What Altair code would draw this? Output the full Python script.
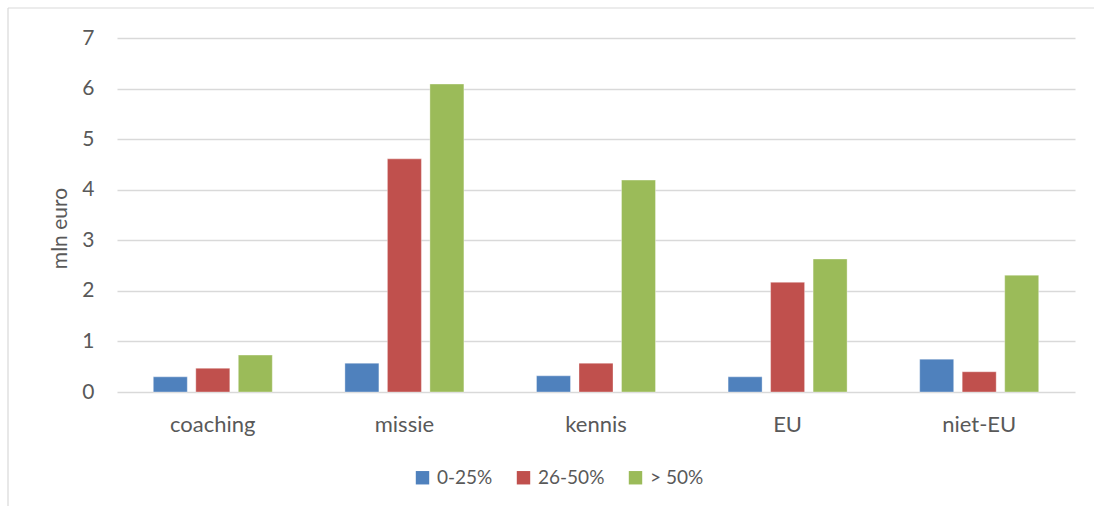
import altair as alt
import pandas as pd

# Categories and the three share classes (values in mln euro)
categories = ["coaching", "missie", "kennis", "EU", "niet-EU"]
groups = ["0-25%", "26-50%", "> 50%"]
share_0_25 = [0.30, 0.57, 0.32, 0.30, 0.65]
share_26_50 = [0.47, 4.61, 0.57, 2.17, 0.40]
share_over_50 = [0.73, 6.09, 4.19, 2.63, 2.31]
colors = ["#4f81bd", "#c0504d", "#9bbb59"]

rows = []
for series, vals in zip(groups, [share_0_25, share_26_50, share_over_50]):
    for cat, v in zip(categories, vals):
        rows.append({"categorie": cat, "klasse": series, "waarde": v})
df = pd.DataFrame(rows)

FONT = "Lato"
TEXT = "#595959"
GRID = "#d9d9d9"

bars = alt.Chart(df).mark_bar(stroke="#ffffff", strokeOpacity=0.35, strokeWidth=1).encode(
    x=alt.X("categorie:N", sort=categories,
            scale=alt.Scale(paddingInner=0, paddingOuter=0),
            axis=alt.Axis(title=None, labelAngle=0, ticks=False, domain=False,
                          labelPadding=22, labelFontSize=22, labelColor=TEXT,
                          labelFont=FONT, grid=False)),
    xOffset=alt.XOffset("klasse:N", sort=groups,
                        scale=alt.Scale(paddingInner=0.2, paddingOuter=0.854)),
    y=alt.Y("waarde:Q",
            scale=alt.Scale(domain=[0, 7], nice=False),
            axis=alt.Axis(title="mln euro", values=list(range(8)), format="d",
                          ticks=False, domain=False, labelPadding=23,
                          labelFontSize=21, labelColor=TEXT, labelFont=FONT,
                          gridColor=GRID, gridWidth=1.3,
                          titleFontSize=21, titleFont=FONT, titleColor=TEXT,
                          titleFontWeight="normal", titleX=-47, titleY=190)),
    color=alt.Color("klasse:N", sort=groups,
                    scale=alt.Scale(domain=groups, range=colors),
                    legend=alt.Legend(title=None, orient="none", direction="horizontal",
                                      legendX=296, legendY=430,
                                      symbolType="square", symbolSize=180,
                                      symbolStrokeWidth=0,
                                      labelFontSize=19, labelColor=TEXT, labelFont=FONT,
                                      labelOffset=5, columnPadding=21)),
)

# Light frame around the chart area
one = pd.DataFrame({"k": [0]})
frame_top = alt.Chart(one).mark_rule(color=GRID, strokeWidth=1.2).encode(
    x=alt.value(-109), x2=alt.value(1100), y=alt.value(-30))
frame_left = alt.Chart(one).mark_rule(color=GRID, strokeWidth=1.2).encode(
    x=alt.value(-109), y=alt.value(-30), y2=alt.value(600))

chart = alt.layer(frame_top, frame_left, bars).properties(
    width=958, height=354,
    background="#ffffff",
    autosize=alt.AutoSizeParams(type="none"),
    padding={"left": 117, "top": 38, "right": 19, "bottom": 114},
).configure_view(strokeWidth=0, stroke=None)

chart.save("out.html", embed_options={"renderer": "svg", "actions": False})
